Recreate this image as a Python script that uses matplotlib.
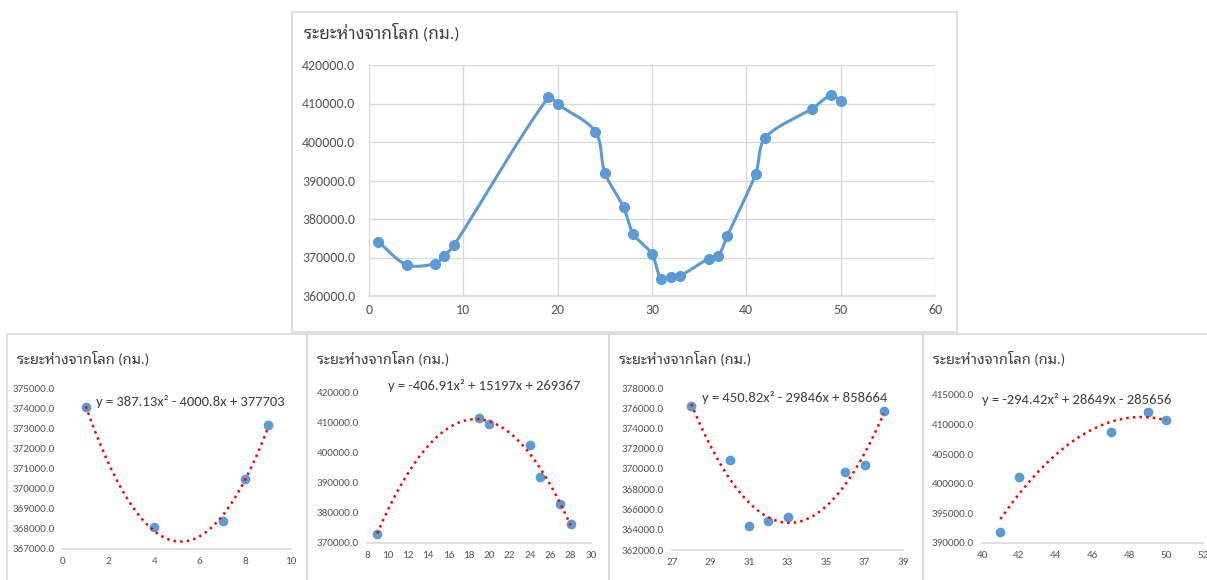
import numpy as np
import matplotlib
matplotlib.use("Agg")
import matplotlib.pyplot as plt
from matplotlib.patches import Rectangle

# distance of the moon from earth (km) by day
days = [1, 4, 7, 8, 9, 19, 20, 24, 25, 27, 28, 30, 31, 32, 33, 36, 37, 38, 41, 42, 47, 49, 50]
dist = [374050, 368100, 368400, 370500, 373150, 411600, 409800, 402700, 392000, 383000,
        376200, 370900, 364400, 364900, 365300, 369700, 370400, 375700, 391800, 401100,
        408700, 412100, 410700]

title = "ระยะห่างจากโลก (กม.)"

# day ranges for the four trendline panels and their polynomial coefficients (a, b, c)
seg_days = [(1, 9), (9, 28), (28, 38), (41, 50)]
seg_coef = [(387.13, -4000.8, 377703), (-406.91, 15197, 269367),
            (450.82, -29846, 858664), (-294.42, 28649, -285656)]
seg_eq = ["y = 387.13x² - 4000.8x + 377703",
          "y = -406.91x² + 15197x + 269367",
          "y = 450.82x² - 29846x + 858664",
          "y = -294.42x² + 28649x - 285656"]

plt.rcParams["font.family"] = ["Carlito", "Lato", "Noto Sans Thai Looped"]

W, H = 1207, 580
BLUE = "#5b9bd5"
GRID = "#d9d9d9"
TXT = "#595959"

fig = plt.figure(figsize=(W / 100, H / 100), dpi=100)


def px_axes(x0, y0, x1, y1):
    return fig.add_axes([x0 / W, 1 - y1 / H, (x1 - x0) / W, (y1 - y0) / H])


def frame(x0, y0, x1, y1):
    fig.patches.append(Rectangle((x0 / W, 1 - y1 / H), (x1 - x0) / W, (y1 - y0) / H,
                                 transform=fig.transFigure, fill=False,
                                 edgecolor=GRID, lw=1.2))


def smooth(xs, ys, sx, sy, k=0.3, n=30):
    # bezier through every point; tangents worked out in pixel space and
    # scaled by segment length so short hops don't loop
    p = np.column_stack([np.array(xs) * sx, np.array(ys) * sy]).astype(float)
    tang = np.zeros_like(p)
    tang[0] = p[1] - p[0]
    tang[-1] = p[-1] - p[-2]
    tang[1:-1] = p[2:] - p[:-2]
    tang /= np.linalg.norm(tang, axis=1)[:, None]
    t = np.linspace(0, 1, n)[1:, None]
    out = [p[0]]
    for i in range(len(p) - 1):
        dlen = np.linalg.norm(p[i + 1] - p[i])
        c1 = p[i] + tang[i] * dlen * k
        c2 = p[i + 1] - tang[i + 1] * dlen * k
        seg = ((1 - t) ** 3 * p[i] + 3 * (1 - t) ** 2 * t * c1
               + 3 * (1 - t) * t ** 2 * c2 + t ** 3 * p[i + 1])
        out.extend(seg)
    out = np.array(out)
    return out[:, 0] / sx, out[:, 1] / sy


def style(ax, size, ypad):
    for s in ["top", "right", "left"]:
        ax.spines[s].set_visible(False)
    ax.spines["bottom"].set_color(GRID)
    ax.spines["bottom"].set_linewidth(1.2)
    ax.tick_params(length=0, labelsize=size, colors=TXT, pad=6)
    ax.tick_params(axis="y", pad=ypad)
    ax.yaxis.set_major_formatter(matplotlib.ticker.FuncFormatter(lambda v, _: f"{v:.1f}"))
    ax.set_facecolor("none")


# top chart: full series
frame(292, 12, 957, 332)
fig.text(304 / W, 1 - 33 / H, title, fontsize=12.5, color="#404040", va="center")
ax = px_axes(369, 65, 935, 296)
sx, sy = smooth(days, dist, (935 - 369) / 60, (296 - 65) / 60000)
ax.plot(sx, sy, color=BLUE, lw=2.2, zorder=3)
ax.plot(days, dist, "o", color=BLUE, ms=7, zorder=4)
ax.set_xlim(0, 60)
ax.set_ylim(360000, 420000)
ax.set_xticks(range(0, 61, 10))
ax.set_yticks(range(360000, 420001, 10000))
ax.grid(color=GRID, lw=1)
style(ax, 10, 10)

# bottom panels: frame box, plot area, tick settings, equation position
panels = [
    dict(box=(7, 334, 307), area=(63, 388, 291, 549), xlim=(0, 10), xt=2,
         ylim=(367000, 375000), yt=1000, eq=(190, 402)),
    dict(box=(307, 334, 609), area=(367, 393, 591, 543), xlim=(8, 30), xt=2,
         ylim=(370000, 420000), yt=10000, eq=(484, 385)),
    dict(box=(609, 334, 923), area=(672, 388, 903, 550), xlim=(27, 39), xt=2,
         ylim=(362000, 378000), yt=2000, eq=(795, 397)),
    dict(box=(923, 334, 1230), area=(982, 395, 1203, 543), xlim=(40, 52), xt=2,
         ylim=(390000, 415000), yt=5000, eq=(1077, 400)),
]

d = np.array(days)
v = np.array(dist)
for k, pn in enumerate(panels):
    bx0, by0, bx1 = pn["box"]
    frame(bx0, by0, bx1, 600)
    fig.text((bx0 + 10) / W, 1 - 359 / H, title, fontsize=10.6, color="#404040", va="center")
    ax = px_axes(*pn["area"])
    lo, hi = seg_days[k]
    m = (d >= lo) & (d <= hi)
    ax.plot(d[m], v[m], "o", color=BLUE, ms=6, zorder=3)
    a, b, c = seg_coef[k]
    xx = np.linspace(lo, hi, 200)
    ax.plot(xx, a * xx ** 2 + b * xx + c, ":", color="#ff0000", lw=1.8, zorder=4)
    ax.set_xlim(*pn["xlim"])
    ax.set_ylim(*pn["ylim"])
    ax.set_xticks(np.arange(pn["xlim"][0], pn["xlim"][1] + 0.1, pn["xt"]))
    ax.set_yticks(np.arange(pn["ylim"][0], pn["ylim"][1] + 1, pn["yt"]))
    ax.xaxis.set_major_formatter(matplotlib.ticker.FuncFormatter(lambda v, _: f"{v:.0f}"))
    style(ax, 8, 6)
    ex, ey = pn["eq"]
    fig.text(ex / W, 1 - ey / H, seg_eq[k], fontsize=10.5, color="#404040",
             ha="center", va="center")

fig.savefig("out.png", dpi=100)
